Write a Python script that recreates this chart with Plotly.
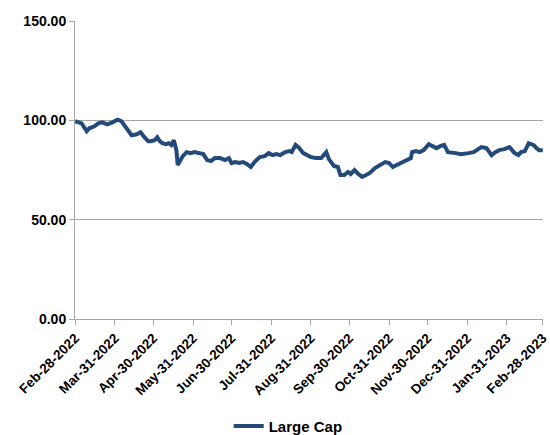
import plotly.graph_objects as go

# Large Cap index level, sampled through the year
dates = [
    "2022-02-28", "2022-03-02", "2022-03-05", "2022-03-09", "2022-03-11", "2022-03-15",
    "2022-03-18", "2022-03-21", "2022-03-25", "2022-03-29", "2022-04-02", "2022-04-05",
    "2022-04-08", "2022-04-11", "2022-04-13", "2022-04-17", "2022-04-20", "2022-04-23",
    "2022-04-26", "2022-04-28", "2022-05-01", "2022-05-03", "2022-05-05", "2022-05-07",
    "2022-05-10", "2022-05-12", "2022-05-14", "2022-05-16", "2022-05-18", "2022-05-19",
    "2022-05-21", "2022-05-23", "2022-05-26", "2022-05-29", "2022-06-01", "2022-06-04",
    "2022-06-08", "2022-06-11", "2022-06-14", "2022-06-17", "2022-06-21", "2022-06-25",
    "2022-06-28", "2022-06-30", "2022-07-03", "2022-07-06", "2022-07-09", "2022-07-12",
    "2022-07-15", "2022-07-18", "2022-07-22", "2022-07-26", "2022-07-29", "2022-08-01",
    "2022-08-04", "2022-08-07", "2022-08-11", "2022-08-14", "2022-08-16", "2022-08-19",
    "2022-08-22", "2022-08-25", "2022-08-28", "2022-08-31", "2022-09-04", "2022-09-08",
    "2022-09-10", "2022-09-12", "2022-09-14", "2022-09-16", "2022-09-18", "2022-09-21",
    "2022-09-23", "2022-09-26", "2022-09-29", "2022-10-01", "2022-10-04", "2022-10-07",
    "2022-10-10", "2022-10-13", "2022-10-16", "2022-10-20", "2022-10-23", "2022-10-26",
    "2022-10-28", "2022-10-31", "2022-11-03", "2022-11-06", "2022-11-09", "2022-11-12",
    "2022-11-14", "2022-11-17", "2022-11-18", "2022-11-21", "2022-11-24", "2022-11-27",
    "2022-12-01", "2022-12-04", "2022-12-07", "2022-12-10", "2022-12-13", "2022-12-16",
    "2022-12-19", "2022-12-22", "2022-12-26", "2022-12-29", "2023-01-01", "2023-01-05",
    "2023-01-08", "2023-01-11", "2023-01-15", "2023-01-19", "2023-01-22", "2023-01-25",
    "2023-01-29", "2023-02-02", "2023-02-06", "2023-02-09", "2023-02-11", "2023-02-14",
    "2023-02-17", "2023-02-21", "2023-02-23", "2023-02-25", "2023-02-28",
]

large_cap = [
    99.6, 99.0, 98.5, 94.5, 96.0, 97.0,
    98.5, 99.0, 98.0, 99.0, 100.3, 99.6,
    97.0, 94.5, 92.5, 93.0, 94.0, 91.5,
    89.5, 89.5, 90.0, 91.5, 89.5, 88.5,
    88.0, 88.5, 87.6, 90.0, 85.0, 77.5,
    79.5, 82.0, 84.0, 83.5, 84.0, 83.5,
    83.0, 80.0, 79.5, 81.0, 81.0, 80.0,
    81.0, 78.5, 79.0, 78.5, 79.0, 78.0,
    76.5, 79.0, 81.5, 82.0, 83.5, 82.5,
    83.0, 82.5, 84.0, 84.5, 84.0, 87.6,
    86.0, 83.5, 82.5, 81.5, 81.0, 81.0,
    82.5, 84.0, 80.5, 78.5, 77.0, 76.5,
    72.5, 72.5, 74.0, 73.0, 75.0, 73.0,
    71.5, 72.5, 73.5, 76.0, 77.0, 78.0,
    79.0, 78.5, 76.5, 77.5, 78.5, 79.0,
    80.0, 81.0, 84.0, 84.5, 84.0, 85.0,
    88.0, 87.0, 86.0, 87.0, 87.6, 84.0,
    83.5, 83.5, 83.0, 83.5, 83.5, 84.0,
    85.0, 86.5, 86.0, 82.5, 84.0, 85.0,
    85.5, 86.5, 83.5, 82.5, 84.0, 84.5,
    88.5, 87.5, 86.0, 85.0, 85.0,
]

# Month-end ticks on the date axis
tick_dates = [
    "2022-02-28", "2022-03-31", "2022-04-30", "2022-05-31", "2022-06-30",
    "2022-07-31", "2022-08-31", "2022-09-30", "2022-10-31", "2022-11-30",
    "2022-12-31", "2023-01-31", "2023-02-28",
]
tick_labels = [
    "Feb-28-2022", "Mar-31-2022", "Apr-30-2022", "May-31-2022", "Jun-30-2022",
    "Jul-31-2022", "Aug-31-2022", "Sep-30-2022", "Oct-31-2022", "Nov-30-2022",
    "Dec-31-2022", "Jan-31-2023", "Feb-28-2023",
]

y_ticks = [0, 50, 100, 150]

FONT = "Liberation Sans, Arial, sans-serif"
LINE_COLOR = "#234a78"
AXIS_GRAY = "#a6a6a6"

fig = go.Figure()
fig.add_trace(go.Scatter(
    x=dates,
    y=large_cap,
    mode="lines",
    name="Large Cap",
    line=dict(color=LINE_COLOR, width=4),
))

fig.update_layout(
    width=550,
    height=435,
    margin=dict(l=75, r=7, t=21, b=116),
    paper_bgcolor="white",
    plot_bgcolor="white",
    font=dict(family=FONT, color="black"),
    showlegend=True,
    legend=dict(
        orientation="h",
        x=0.524,
        xanchor="center",
        xref="container",
        y=0.02,
        yanchor="middle",
        yref="container",
        font=dict(family=FONT, size=15, weight="bold"),
    ),
    xaxis=dict(
        type="date",
        range=["2022-02-27T20:00", "2023-02-28T04:00"],
        tickvals=tick_dates,
        ticktext=tick_labels,
        tickangle=-45,
        tickfont=dict(family=FONT, size=13.5, weight="bold"),
        ticklabeloverflow="allow",
        showgrid=False,
        showline=True,
        linecolor=AXIS_GRAY,
        linewidth=1,
        ticks="outside",
        ticklen=5,
        tickcolor=AXIS_GRAY,
        zeroline=False,
        automargin=False,
    ),
    yaxis=dict(
        range=[0, 150],
        tickvals=y_ticks,
        tickformat=".2f",
        tickfont=dict(family=FONT, size=14, weight="bold"),
        showgrid=True,
        gridcolor=AXIS_GRAY,
        gridwidth=1,
        showline=True,
        linecolor=AXIS_GRAY,
        linewidth=1,
        ticks="outside",
        ticklen=5,
        tickcolor=AXIS_GRAY,
        zeroline=False,
        automargin=False,
    ),
)

fig.write_html("out.html")
